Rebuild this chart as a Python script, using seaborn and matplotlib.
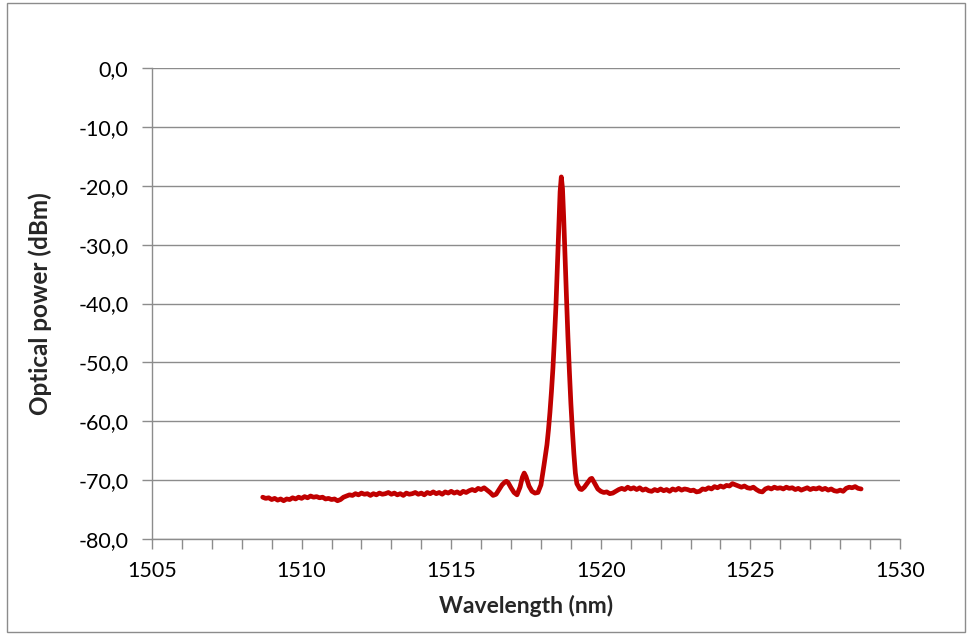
import matplotlib
matplotlib.use("Agg")
import matplotlib.pyplot as plt
from matplotlib.patches import Rectangle
from matplotlib.ticker import FuncFormatter, MultipleLocator
import numpy as np
import pandas as pd
import seaborn as sns

# Measured optical spectrum: wavelength (nm) and optical power (dBm)
wavelength_nm = [
    1508.7, 1508.8, 1508.9, 1509.0, 1509.1, 1509.2, 1509.3, 1509.4, 1509.5, 1509.6,
    1509.7, 1509.8, 1509.9, 1510.0, 1510.1, 1510.2, 1510.3, 1510.4, 1510.5, 1510.6,
    1510.7, 1510.8, 1510.9, 1511.0, 1511.1, 1511.2, 1511.3, 1511.4, 1511.5, 1511.6,
    1511.7, 1511.8, 1511.9, 1512.0, 1512.1, 1512.2, 1512.3, 1512.4, 1512.5, 1512.6,
    1512.7, 1512.8, 1512.9, 1513.0, 1513.1, 1513.2, 1513.3, 1513.4, 1513.5, 1513.6,
    1513.7, 1513.8, 1513.9, 1514.0, 1514.1, 1514.2, 1514.3, 1514.4, 1514.5, 1514.6,
    1514.7, 1514.8, 1514.9, 1515.0, 1515.1, 1515.2, 1515.3, 1515.4, 1515.5, 1515.6,
    1515.7, 1515.8, 1515.9, 1516.0, 1516.1, 1516.2, 1516.3, 1516.4,
    1516.5, 1516.6, 1516.7, 1516.8, 1516.85, 1516.9, 1517.0, 1517.1, 1517.2, 1517.3,
    1517.38, 1517.44, 1517.5, 1517.6, 1517.7, 1517.8, 1517.9, 1518.0, 1518.1,
    1518.2, 1518.25, 1518.3, 1518.35, 1518.4, 1518.45, 1518.5, 1518.55, 1518.6, 1518.64,
    1518.68, 1518.72, 1518.76, 1518.8, 1518.85, 1518.9, 1518.95, 1519.0, 1519.05, 1519.1,
    1519.15, 1519.2, 1519.3, 1519.36, 1519.45, 1519.55, 1519.65, 1519.7, 1519.78, 1519.9,
    1520.0, 1520.1, 1520.2, 1520.3, 1520.4, 1520.5, 1520.6, 1520.7, 1520.8, 1520.9,
    1521.0, 1521.1, 1521.2, 1521.3, 1521.4, 1521.5, 1521.6, 1521.7, 1521.8, 1521.9,
    1522.0, 1522.1, 1522.2, 1522.3, 1522.4, 1522.5, 1522.6, 1522.7, 1522.8, 1522.9,
    1523.0, 1523.1, 1523.2, 1523.3, 1523.4, 1523.5, 1523.6, 1523.7, 1523.8, 1523.9,
    1524.0, 1524.1, 1524.2, 1524.3, 1524.4, 1524.5, 1524.6, 1524.7, 1524.8, 1524.9,
    1525.0, 1525.1, 1525.2, 1525.3, 1525.4, 1525.5, 1525.6, 1525.7, 1525.8, 1525.9,
    1526.0, 1526.1, 1526.2, 1526.3, 1526.4, 1526.5, 1526.6, 1526.7, 1526.8, 1526.9,
    1527.0, 1527.1, 1527.2, 1527.3, 1527.4, 1527.5, 1527.6, 1527.7, 1527.8, 1527.9,
    1528.0, 1528.1, 1528.2, 1528.3, 1528.4, 1528.5, 1528.6, 1528.7,
]

power_dbm = [
    -72.9, -73.1, -73.0, -73.3, -73.1, -73.4, -73.2, -73.5, -73.2, -73.3,
    -73.0, -73.2, -72.9, -73.1, -72.8, -73.0, -72.7, -72.9, -72.8, -73.0,
    -72.9, -73.2, -73.1, -73.3, -73.2, -73.5, -73.3, -72.9, -72.7, -72.5,
    -72.6, -72.3, -72.5, -72.2, -72.4, -72.3, -72.6, -72.3, -72.5, -72.2,
    -72.4, -72.3, -72.1, -72.4, -72.2, -72.5, -72.3, -72.6, -72.2, -72.4,
    -72.3, -72.1, -72.4, -72.2, -72.5, -72.1, -72.3, -72.0, -72.3, -72.1,
    -72.4, -72.0, -72.2, -71.9, -72.2, -72.0, -72.3, -71.9, -72.1, -71.8,
    -71.6, -71.8, -71.4, -71.6, -71.3, -71.7, -72.1, -72.6,
    -72.4, -71.6, -70.8, -70.3, -70.2, -70.4, -71.3, -72.1, -72.5, -71.2,
    -69.5, -68.8, -69.4, -71.0, -71.9, -72.2, -72.1, -70.8, -67.5,
    -64.0, -61.5, -58.5, -55.0, -51.0, -46.0, -40.5, -33.5, -26.0, -21.0,
    -18.5, -20.5, -25.5, -31.5, -38.5, -45.5, -51.5, -57.0, -61.5, -65.5,
    -68.8, -70.6, -71.5, -71.6, -71.2, -70.5, -69.8, -69.7, -70.4, -71.5,
    -71.9, -72.1, -72.0, -72.3, -72.2, -71.9, -71.6, -71.4, -71.6, -71.2,
    -71.5, -71.3, -71.6, -71.3, -71.7, -71.5, -71.8, -71.9, -71.6, -71.8,
    -71.5, -71.8, -71.6, -71.9, -71.5, -71.7, -71.4, -71.7, -71.5, -71.6,
    -71.8, -71.7, -72.0, -71.9, -71.5, -71.6, -71.3, -71.5, -71.1, -71.3,
    -71.0, -71.2, -70.9, -71.0, -70.6, -70.8, -71.0, -71.2, -71.0, -71.3,
    -71.4, -71.2, -71.6, -71.9, -72.0, -71.5, -71.3, -71.5, -71.2, -71.4,
    -71.3, -71.5, -71.2, -71.4, -71.3, -71.6, -71.4, -71.7, -71.5, -71.3,
    -71.6, -71.4, -71.5, -71.3, -71.6, -71.4, -71.7, -71.5, -71.8, -71.9,
    -71.7, -71.9, -71.4, -71.2, -71.3, -71.1, -71.4, -71.5,
]

x_ticks = [1505, 1510, 1515, 1520, 1525, 1530]
y_ticks = [0, -10, -20, -30, -40, -50, -60, -70, -80]

sns.set_theme(style="white")
plt.rcParams["font.family"] = ["Lato", "DejaVu Sans"]

df = pd.DataFrame({"Wavelength (nm)": wavelength_nm, "Optical power (dBm)": power_dbm})

fig = plt.figure(figsize=(9.68, 6.35), dpi=100)
ax = fig.add_axes([152 / 968, 1 - 539 / 635, (900 - 152) / 968, (539 - 68) / 635])

grid_color = "#8c8c8c"
for yv in y_ticks:
    ax.axhline(yv, color=grid_color, lw=1.0, zorder=0)

sns.lineplot(data=df, x="Wavelength (nm)", y="Optical power (dBm)", ax=ax,
             color="#C00000", lw=3.4, sort=False, zorder=3)

ax.set_xlim(x_ticks[0], x_ticks[-1])
ax.set_ylim(y_ticks[-1], y_ticks[0])
ax.set_xticks(x_ticks)
ax.set_yticks(y_ticks)
ax.xaxis.set_minor_locator(MultipleLocator(1))
ax.yaxis.set_major_formatter(FuncFormatter(lambda v, _: f"{v:.1f}".replace(".", ",")))

for side in ("top", "right"):
    ax.spines[side].set_visible(False)
for side in ("left", "bottom"):
    ax.spines[side].set_color(grid_color)
    ax.spines[side].set_linewidth(1.0)

ax.tick_params(axis="both", which="both", direction="out", color=grid_color,
               length=7, width=1.0, labelsize=15.5, labelcolor="black")
ax.tick_params(axis="x", which="major", pad=9, bottom=True)
ax.tick_params(axis="x", which="minor", bottom=True)
ax.tick_params(axis="y", which="major", pad=10, left=True)

ax.set_xlabel("Wavelength (nm)", fontsize=16.5, fontweight="bold", labelpad=10)
ax.set_ylabel("Optical power (dBm)", fontsize=17.5, fontweight="bold", labelpad=19)

# Thin grey frame around the whole chart
fig.patches.append(Rectangle((7 / 968, 3 / 635), 958 / 968, 629 / 635, transform=fig.transFigure,
                             fill=False, edgecolor="#8c8c8c", lw=1.0))

fig.savefig("out.png", dpi=100)
